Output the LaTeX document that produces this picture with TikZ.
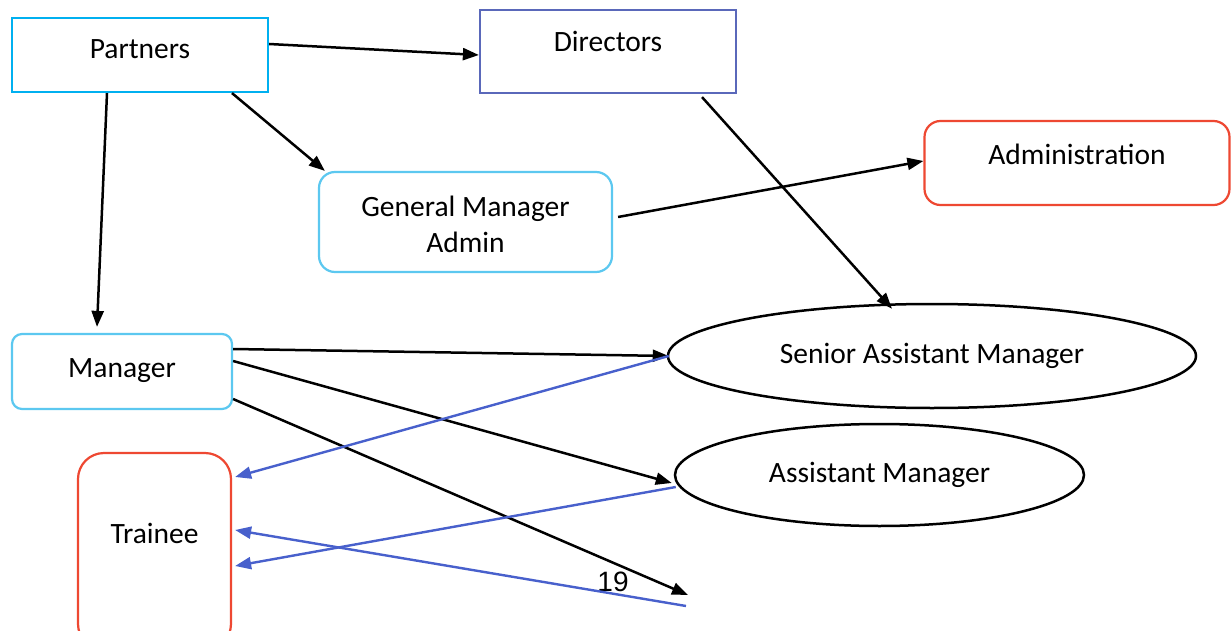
\documentclass[tikz,border=0pt]{standalone}
\usepackage{fontspec}
\setmainfont{Carlito}
\newfontfamily\arialf{Liberation Sans}
\usetikzlibrary{arrows.meta,shapes.geometric}
\definecolor{cyanb}{RGB}{0,176,240}
\definecolor{dirb}{RGB}{90,104,186}
\definecolor{lblue}{RGB}{92,200,240}
\definecolor{redb}{RGB}{238,72,50}
\definecolor{linkb}{RGB}{72,96,204}
\begin{document}
\begin{tikzpicture}[x=1pt,y=-1pt,
  box/.style={draw,line width=2.2pt,inner sep=0pt,font=\fontsize{29.5}{36}\selectfont,align=center},
  rbox/.style={box,rounded corners=16pt},
  ell/.style={ellipse,draw,line width=2.5pt,inner sep=0pt,font=\fontsize{29.5}{36}\selectfont},
  arr/.style={line width=2.5pt,-{Triangle[length=16pt,width=12pt]}},
  barr/.style={line width=2.4pt,draw=linkb,-{Triangle[length=16pt,width=12pt]},linkb}]
\clip (0,0) rectangle (1231,631);
\fill[white] (0,0) rectangle (1231,631);

\node[box,draw=cyanb,minimum width=256pt,minimum height=74pt] (P) at (140,55) {\raisebox{11pt}{Partners}};
\node[box,draw=dirb,minimum width=256pt,minimum height=83pt] (D) at (608,51.5) {\raisebox{20pt}{Directors}};
\node[rbox,draw=lblue,minimum width=293pt,minimum height=100pt] (G) at (465.5,222) {\raisebox{-5pt}[\height][\depth]{\begin{tabular}{@{}c@{}}General Manager\\[0pt]Admin\end{tabular}}};
\node[rbox,draw=redb,minimum width=305pt,minimum height=84pt] (A) at (1077,163) {\raisebox{18pt}{Administration}};
\node[rbox,draw=lblue,minimum width=220pt,minimum height=75pt,rounded corners=10pt] (M) at (122,371.5) {\raisebox{6pt}{Manager}};
\node[rbox,draw=redb,minimum width=153pt,minimum height=197pt,rounded corners=26pt] (T) at (154.5,551.5) {\raisebox{37pt}{Trainee}};
\node[ell,minimum width=528pt,minimum height=104pt] (S) at (932,356) {Senior Assistant Manager};
\node[ell,minimum width=409pt,minimum height=102pt] (AM) at (879.5,475) {Assistant Manager};
\node[font=\arialf\fontsize{28}{30}\selectfont] (n19) at (613,582) {19};

\coordinate (e1) at (688,595);
\coordinate (e2) at (686,606);

\draw[arr] ([yshift=11pt]P.east) -- ([yshift=-3.5pt]D.west);
\draw[arr] ([xshift=92pt]P.south) -- ([xshift=7pt]G.north west);
\draw[arr] ([xshift=-33pt]P.south) -- ([xshift=-25pt,yshift=6pt]M.north);
\draw[arr] ([xshift=94pt,yshift=-3pt]D.south) -- ([xshift=-40pt,yshift=-6pt]S.north);
\draw[arr] ([xshift=5pt,yshift=5pt]G.east) -- ([yshift=2pt]A.west);
\draw[arr] ([yshift=22.5pt]M.east) -- ([xshift=2pt]S.west);
\draw[arr] ([yshift=10.5pt]M.east) -- ([xshift=-2pt,yshift=-8pt]AM.west);
\draw[arr] ([yshift=-27.5pt]M.east) -- (e1);

\draw[barr] ([xshift=2pt]S.west) -- ([xshift=3pt,yshift=74.5pt]T.east);
\draw[barr] ([xshift=2pt,yshift=-12pt]AM.west) -- ([xshift=3pt,yshift=-14.5pt]T.east);
\draw[barr] (e2) -- ([xshift=3pt,yshift=21.5pt]T.east);
\end{tikzpicture}
\end{document}
